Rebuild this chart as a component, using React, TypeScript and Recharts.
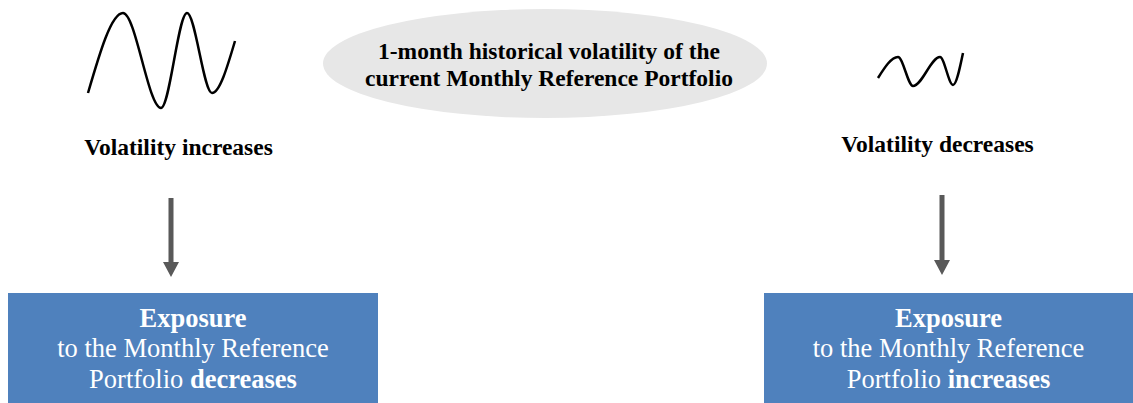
import React from 'react';
import { ComposedChart, XAxis, YAxis, Line, ReferenceArea, ReferenceDot } from 'recharts';

const W = 1133;
const H = 403;
const FONT = "'Liberation Serif', 'Times New Roman', Times, serif";

// Wave sketches (diagram coordinates: x to the right, y downwards)
const waveHigh = [
  { x: 88, y: 93 },
  { x: 123, y: 13 },
  { x: 161, y: 108 },
  { x: 187, y: 13 },
  { x: 212, y: 93 },
  { x: 235, y: 41 },
];
const waveLow = [
  { x: 878, y: 78 },
  { x: 898, y: 57 },
  { x: 913, y: 86 },
  { x: 940, y: 57 },
  { x: 953, y: 85 },
  { x: 963, y: 53 },
];

// Central ellipse
const ellipseBox = { x1: 323, x2: 767, y1: 9, y2: 118 };
const ellipseLines = ['1-month historical volatility of the', 'current Monthly Reference Portfolio'];

// Captions under the waves
const captions = [
  { x: 178.5, y: 155, text: 'Volatility increases' },
  { x: 937.5, y: 152, text: 'Volatility decreases' },
];

// Arrows
const arrows = [
  { x1: 163, x2: 179, y1: 198, y2: 277 },
  { x1: 934, x2: 950, y1: 195, y2: 275 },
];

// Result boxes
const boxes = [
  { x1: 8, x2: 378, y1: 293, y2: 403, outcome: 'decreases' },
  { x1: 764, x2: 1133, y1: 293, y2: 403, outcome: 'increases' },
];

const bold = { fontFamily: FONT, fontWeight: 700 as const };
const regular = { fontFamily: FONT, fontWeight: 400 as const };

const EllipseShape = (props: any) => {
  const { x, y, width, height } = props;
  const cx = x + width / 2;
  const cy = y + height / 2;
  return (
    <g>
      <ellipse cx={cx} cy={cy} rx={width / 2} ry={height / 2} fill="#e7e7e7" />
      <text x={cx + 4} y={cy - 4.5} textAnchor="middle" style={{ ...bold, fontSize: 23.5 }} fill="#000">
        {ellipseLines[0]}
      </text>
      <text x={cx + 4} y={cy + 22.5} textAnchor="middle" style={{ ...bold, fontSize: 23.5 }} fill="#000">
        {ellipseLines[1]}
      </text>
    </g>
  );
};

const ArrowShape = (props: any) => {
  const { x, y, width, height } = props;
  const cx = x + width / 2;
  const head = 15;
  const shaft = 5;
  const d = `M${cx - shaft / 2},${y} L${cx + shaft / 2},${y} L${cx + shaft / 2},${y + height - head} L${x + width},${y + height - head} L${cx},${y + height} L${x},${y + height - head} L${cx - shaft / 2},${y + height - head} Z`;
  return <path d={d} fill="#595959" />;
};

const makeBoxShape = (outcome: string) => (props: any) => {
  const { x, y, width, height } = props;
  const cx = x + width / 2;
  return (
    <g>
      <rect x={x} y={y} width={width} height={height} fill="#4f81bd" />
      <text x={cx} y={y + 34} textAnchor="middle" style={{ ...bold, fontSize: 26.5 }} fill="#fff">
        Exposure
      </text>
      <text x={cx} y={y + 64} textAnchor="middle" style={{ ...regular, fontSize: 26.5 }} fill="#fff">
        to the Monthly Reference
      </text>
      <text x={cx} y={y + 95} textAnchor="middle" style={{ ...regular, fontSize: 26.5 }} fill="#fff">
        Portfolio <tspan style={{ fontWeight: 700 }}>{outcome}</tspan>
      </text>
    </g>
  );
};

const makeCaption = (text: string) => (props: any) => {
  const { cx, cy } = props;
  return (
    <text x={cx} y={cy} textAnchor="middle" style={{ ...bold, fontSize: 23.5 }} fill="#000">
      {text}
    </text>
  );
};

export default function App() {
  return (
    <div style={{ position: 'absolute', left: 0, top: 0, width: W, height: H, background: '#fff', fontFamily: FONT }}>
      <ComposedChart width={W} height={H} margin={{ top: 0, right: 0, bottom: 0, left: 0 }} style={{ fontFamily: FONT }}>
        <XAxis type="number" dataKey="x" domain={[0, W]} hide allowDataOverflow />
        <YAxis type="number" dataKey="y" domain={[0, H]} reversed hide allowDataOverflow />
        <ReferenceArea {...ellipseBox} shape={EllipseShape} ifOverflow="visible" />
        {arrows.map((a, i) => (
          <ReferenceArea key={'a' + i} {...a} shape={ArrowShape} ifOverflow="visible" />
        ))}
        {boxes.map((b, i) => (
          <ReferenceArea key={'b' + i} x1={b.x1} x2={b.x2} y1={b.y1} y2={b.y2} shape={makeBoxShape(b.outcome)} ifOverflow="visible" />
        ))}
        {captions.map((c, i) => (
          <ReferenceDot key={'c' + i} x={c.x} y={c.y} shape={makeCaption(c.text)} ifOverflow="visible" />
        ))}
        <Line data={waveHigh} dataKey="y" type="monotone" stroke="#000" strokeWidth={2.5} dot={false} activeDot={false} isAnimationActive={false} />
        <Line data={waveLow} dataKey="y" type="monotone" stroke="#000" strokeWidth={2.5} dot={false} activeDot={false} isAnimationActive={false} />
      </ComposedChart>
    </div>
  );
}
